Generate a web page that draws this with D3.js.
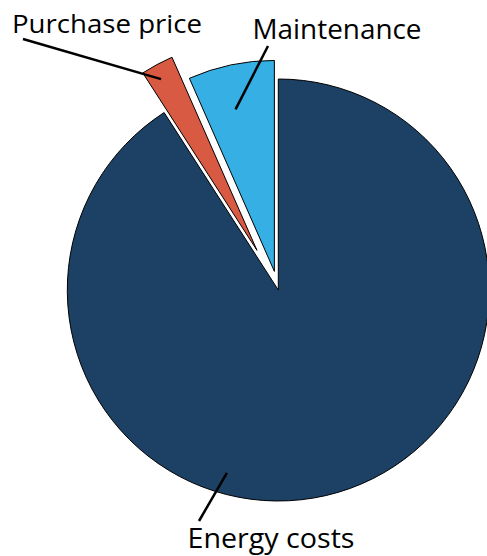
<!DOCTYPE html>
<html><head><meta charset="utf-8">
<script src="https://cdn.jsdelivr.net/npm/d3@7"></script>
<style>body{margin:0;background:#fff}svg{display:block}text{font-family:"Open Sans",Lato,sans-serif;fill:#000}</style>
</head><body><svg id="c" width="487" height="556"></svg>
<script>
const categories = ["Energy costs", "Purchase price", "Maintenance"];
const values = [90.9, 2.5, 6.6];
const colors = ["#1d4065", "#d95a42", "#35afe4"];
const explode = [0, 45, 19];

// label layout (annotation only)
const labelPos = [[271, 548], [107, 33], [337, 39]];
const labelWidth = [167, 190, 169];
const leaderInner = [[195.7, 0.9], [-1, 0.93], [-1.6, 0.79]];
const leaderOuter = [[199, 521], [23, 39], [268, 46]];

const W = 487, H = 556, cx = 278.3, cy = 290, R = 211;
const svg = d3.select("#c");
svg.append("rect").attr("width", W).attr("height", H).attr("fill", "#fff");
const g = svg.append("g").attr("transform", `translate(${cx},${cy})`);
const pie = d3.pie().sort(null).value(d => d)(values);
const arc = d3.arc().innerRadius(0).outerRadius(R);

pie.forEach((p, i) => {
  const mid = (p.startAngle + p.endAngle) / 2;
  const [ox, oy] = d3.pointRadial(mid, explode[i]);
  const sg = g.append("g").attr("transform", `translate(${ox},${oy})`);
  sg.append("path").attr("d", arc(p)).attr("fill", colors[i])
    .attr("stroke", "#000").attr("stroke-width", 1).attr("stroke-linejoin", "miter");
  let ang;
  if (i === 0) ang = leaderInner[i][0] * Math.PI / 180;
  else ang = mid + leaderInner[i][0] * Math.PI / 180;
  const [ix, iy] = d3.pointRadial(ang, R * leaderInner[i][1]);
  svg.append("line")
    .attr("x1", cx + ox + ix).attr("y1", cy + oy + iy)
    .attr("x2", leaderOuter[i][0]).attr("y2", leaderOuter[i][1])
    .attr("stroke", "#000").attr("stroke-width", 2.5);
  const t = svg.append("text").attr("x", labelPos[i][0]).attr("y", labelPos[i][1])
    .attr("text-anchor", "middle").attr("font-size", 25).text(categories[i]);
  const w = t.node().getComputedTextLength();
  t.attr("font-size", 25 * Math.sqrt(labelWidth[i] / w));
  t.attr("textLength", labelWidth[i]).attr("lengthAdjust", "spacingAndGlyphs");
});
</script></body></html>
